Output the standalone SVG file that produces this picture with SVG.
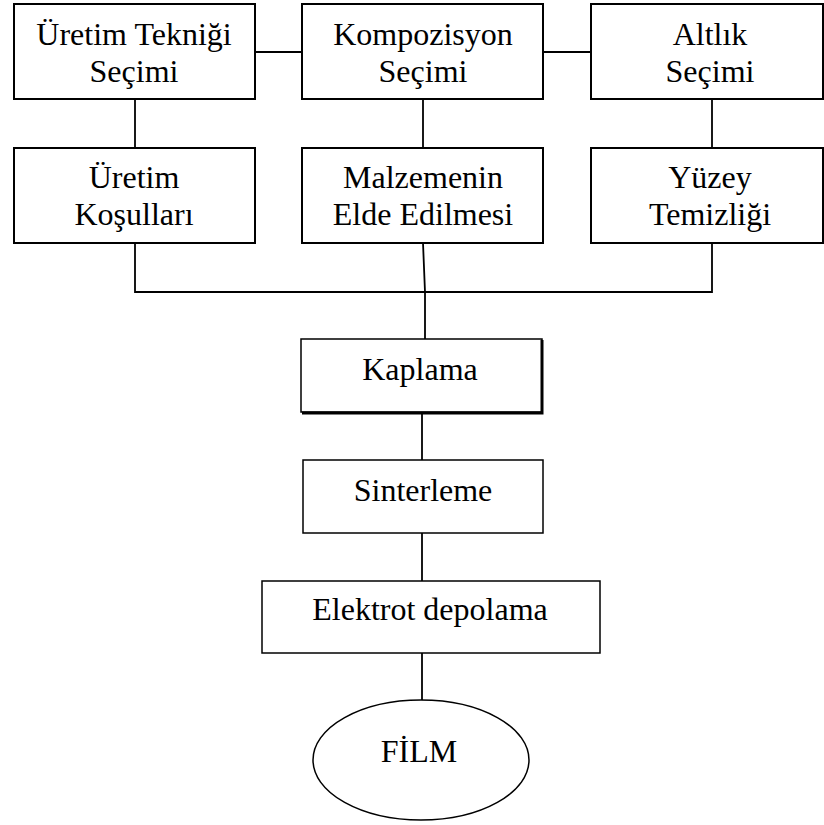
<svg xmlns="http://www.w3.org/2000/svg" width="824" height="825" viewBox="0 0 824 825">
<style>
.box{fill:#fff;stroke:#000;stroke-width:2}
.thin{fill:#fff;stroke:#000;stroke-width:1.5}
.lbl{font-family:"Liberation Serif","Times New Roman",serif;font-size:32px;fill:#000;text-anchor:middle}
.con line,.con path{stroke:#000;stroke-width:1.8;fill:none}
</style>
<rect width="824" height="825" fill="#fff"/>
<g class="con" id="connectors">
<line x1="255" y1="52" x2="303" y2="52"/>
<line x1="543" y1="52" x2="591" y2="52"/>
<line x1="135" y1="99" x2="135" y2="147"/>
<line x1="423" y1="99" x2="423" y2="147"/>
<line x1="712" y1="99" x2="712" y2="147"/>
<path d="M135 243 V292 H712 V243"/>
<path d="M423 243 L425 292 V339"/>
<line x1="422" y1="412" x2="422" y2="460"/>
<line x1="422" y1="533" x2="422" y2="581"/>
<line x1="422" y1="653" x2="422" y2="700"/>
</g>
<g id="uretim-teknigi">
<rect class="box" x="14" y="4" width="241" height="95"/>
<text class="lbl" x="134" y="45">Üretim Tekniği</text>
<text class="lbl" x="134" y="82">Seçimi</text>
</g>
<g id="kompozisyon">
<rect class="box" x="302" y="4" width="241" height="95"/>
<text class="lbl" x="423" y="45">Kompozisyon</text>
<text class="lbl" x="423" y="82">Seçimi</text>
</g>
<g id="altlik">
<rect class="box" x="591" y="4" width="232" height="95"/>
<text class="lbl" x="710" y="45">Altlık</text>
<text class="lbl" x="710" y="82">Seçimi</text>
</g>
<g id="uretim-kosullari">
<rect class="box" x="14" y="148" width="241" height="95"/>
<text class="lbl" x="134" y="188">Üretim</text>
<text class="lbl" x="134" y="225">Koşulları</text>
</g>
<g id="malzeme">
<rect class="box" x="302" y="148" width="241" height="95"/>
<text class="lbl" x="423" y="188">Malzemenin</text>
<text class="lbl" x="423" y="225">Elde Edilmesi</text>
</g>
<g id="yuzey">
<rect class="box" x="591" y="148" width="232" height="95"/>
<text class="lbl" x="710" y="188">Yüzey</text>
<text class="lbl" x="710" y="225">Temizliği</text>
</g>
<g id="kaplama">
<rect class="thin" x="301" y="339" width="241" height="73"/>
<path d="M542 340 V413 H302" stroke="#000" stroke-width="3" fill="none"/>
<text class="lbl" x="420" y="380">Kaplama</text>
</g>
<g id="sinterleme">
<rect class="thin" x="303" y="460" width="240" height="73"/>
<text class="lbl" x="423" y="501">Sinterleme</text>
</g>
<g id="elektrot">
<rect class="thin" x="262" y="581" width="338" height="72"/>
<text class="lbl" x="430" y="620">Elektrot depolama</text>
</g>
<g id="film">
<ellipse class="thin" cx="421" cy="760" rx="108" ry="60"/>
<text class="lbl" x="419" y="762">FİLM</text>
</g>
</svg>
